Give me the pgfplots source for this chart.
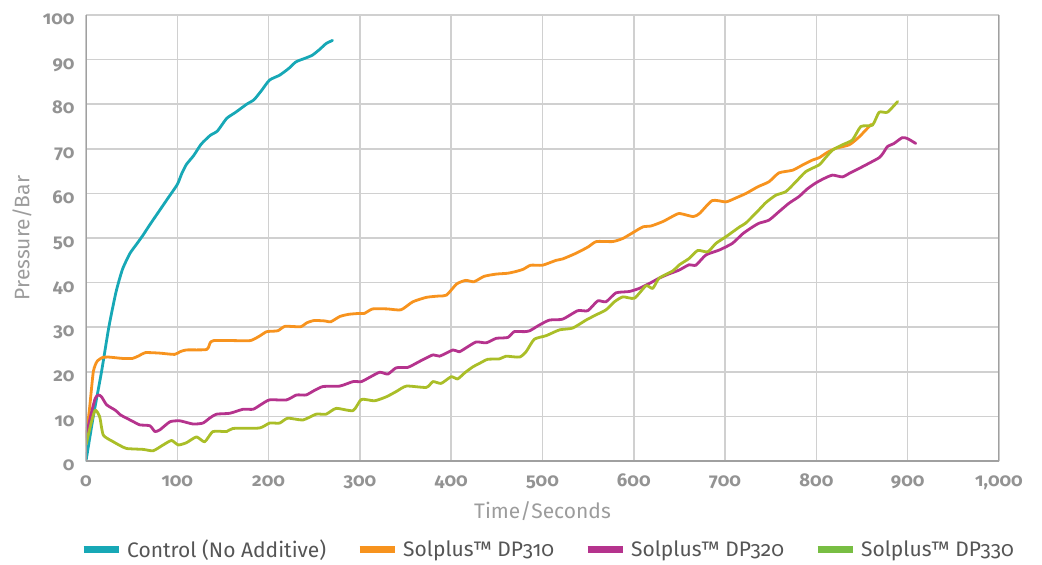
\documentclass[border=0pt]{standalone}
\usepackage{fontspec}
\setmainfont{Fira Sans}[Numbers=OldStyle]
\usepackage{pgfplots}
\pgfplotsset{compat=1.18}
\definecolor{cteal}{HTML}{17A8B6}
\definecolor{corange}{HTML}{F7931E}
\definecolor{cmagenta}{HTML}{B5338D}
\definecolor{cgreen}{HTML}{AABE28}
\definecolor{clegendgreen}{HTML}{78BE43}
\definecolor{gridgray}{HTML}{D0D0D0}
\definecolor{axisgray}{HTML}{A0A0A0}
\definecolor{tickgray}{HTML}{939393}
\definecolor{labelgray}{HTML}{9C9C9C}
\definecolor{legtext}{HTML}{555555}
\begin{document}
\begin{tikzpicture}
\path[use as bounding box] (-86pt,-104pt) rectangle (956pt,461pt);
\begin{axis}[
  at={(0pt,0pt)}, anchor=south west,
  scale only axis, width=913pt, height=446pt,
  xmin=0, xmax=1000, ymin=0, ymax=100,
  xtick={0,100,...,1000}, ytick={0,10,...,100},
  grid=major,
  major grid style={draw=gridgray, line width=1.5pt},
  axis line style={draw=none},
  major tick length=0pt,
  /pgf/number format/assume math mode=true,
  /pgf/number format/1000 sep={,},
  tick label style={font=\fontsize{18.5}{18.5}\selectfont\bfseries, text=tickgray},
  xticklabel style={anchor=base, yshift=-25pt},
  yticklabel style={anchor=base east, yshift=-9.7pt, xshift=-8pt},
  xlabel={Time/Seconds},
  ylabel={Pressure/Bar},
  label style={font=\fontsize{21}{21}\selectfont, text=labelgray},
  xlabel style={at={(axis description cs:0.5,0)}, anchor=base, yshift=-57.7pt},
  ylabel style={at={(axis description cs:-0.0701,0.5)}, anchor=center},
  legend columns=4,
  legend style={draw=none, fill=none, at={(axis description cs:0,0)}, anchor=west,
    xshift=-9pt, yshift=-88pt,
    font=\fontsize{21}{21}\selectfont, text=legtext,
    nodes={inner sep=0pt},
    /tikz/every odd column/.append style={column sep=5pt},
    /tikz/every even column/.append style={column sep=30pt}},
  legend image code/.code={\draw[#1, line width=7pt, line cap=butt, sharp plot] (0pt,0pt) -- (35pt,0pt);},
  every axis plot/.append style={line width=2.8pt, line join=round, line cap=round, smooth, tension=0.35},
]
\addplot[cteal] coordinates {
(0,0) (8,10) (17,20) (25,30) (33,38) (40,43) (48,46.5) (55,48.5) (62,50.5) (70,53)
(80,56) (90,59) (100,62) (105,64.5) (110,66.5) (118,68.5) (126,71) (136,73) (144,74)
(154,76.8) (164,78.2) (176,80) (184,81) (192,83) (201,85.4) (212,86.5) (222,88)
(230,89.5) (240,90.3) (248,91) (256,92.3) (263,93.6) (270,94.3)};
\addlegendentry{Control (No Additive)}
\addplot[corange] coordinates {
(0,5) (4,12) (8,20) (12,22.3) (18,23.2) (25,23.3) (40,23) (51,23) (58,23.6) (65,24.3)
(80,24.2) (97,23.9) (103,24.5) (110,24.9) (132,25) (136,26.5) (140,27) (160,27)
(180,27) (190,28) (198,29) (210,29.2) (218,30.2) (235,30.1) (242,31) (250,31.5)
(262,31.4) (268,31.2) (278,32.4) (288,32.9) (300,33.1) (305,33.1) (314,34.1) (330,34.1)
(345,33.9) (358,35.7) (373,36.7) (387,37) (395,37.2) (406,39.7) (416,40.5) (425,40.2)
(436,41.4) (449,41.9) (462,42.1) (471,42.5) (479,43) (487,43.9) (500,43.9) (515,45)
(522,45.3) (537,46.6) (550,48) (559,49.2) (577,49.2) (588,49.9) (599,51.2) (610,52.5)
(619,52.7) (632,53.7) (642,54.8) (650,55.5) (665,54.8) (672,55.5) (686,58.4) (701,58.1)
(712,59) (723,60) (736,61.5) (748,62.6) (759,64.6) (774,65.2) (786,66.5) (796,67.5)
(803,68) (812,69.2) (821,70.1) (836,70.9) (847,72.7) (860,75.5)};
\addlegendentry{Solplus™ DP310}
\addplot[cmagenta] coordinates {
(0,5.4) (5,10) (10,14) (13.5,14.8) (17,14.4) (22.6,12.6) (32,11.4) (38,10.3) (44.5,9.6)
(52,8.8) (59,8.1) (70,7.9) (75.5,6.6) (81,7) (92,8.8) (103,9) (117,8.3) (128,8.5)
(136,9.7) (143,10.5) (157.5,10.7) (172,11.6) (183,11.6) (192,12.7) (201,13.7)
(219.6,13.7) (230.5,14.8) (241,14.8) (250,15.8) (259.7,16.7) (278,16.8) (292.5,17.8)
(301.6,17.8) (311,18.8) (321.7,19.9) (330.7,19.5) (339.8,20.9) (352.6,21) (366,22.4)
(380,23.8) (387.3,23.5) (401.9,24.9) (409,24.5) (418,25.6) (427.5,26.7) (438.4,26.5)
(449.3,27.5) (462,27.7) (469,29) (480,29) (486,29.2) (496.7,30.5) (507.7,31.6)
(522,31.8) (538.6,33.7) (549.6,33.7) (560.5,35.9) (569.6,35.7) (580.5,37.7) (595,38)
(605.9,38.7) (617,39.8) (627.8,41) (638,41.9) (649.6,42.8) (660.5,44) (668,43.9)
(679,46.2) (693.6,47.3) (708,48.8) (719,50.9) (728,52.2) (737,53.3) (748,54) (759,55.9)
(770,57.8) (781,59.3) (790,61) (799,62.3) (808,63.3) (817.6,64.1) (828.5,63.7)
(837,64.6) (846.8,65.6) (858,66.8) (868.7,68) (873,69) (877.8,70.5) (885,71.2)
(894,72.5) (899.7,72.3) (908.8,71.2)};
\addlegendentry{Solplus™ DP320}
\addplot[cgreen, forget plot] coordinates {
(0,3.6) (5,8) (10,11.4) (15,9.9) (19,5.8) (30,4.3) (37,3.5) (44.5,2.8) (62.7,2.6)
(73.6,2.3) (84.5,3.6) (93.7,4.6) (101,3.6) (110,4.1) (121,5.4) (130,4.3) (139,6.6)
(154,6.6) (161,7.3) (190,7.4) (201,8.5) (212,8.5) (221,9.6) (237.6,9.2) (252,10.5)
(263,10.5) (274,11.8) (292.5,11.3) (301.6,13.8) (316,13.5) (329,14.4) (340,15.6)
(351,16.8) (372.7,16.5) (380,17.8) (389,17.4) (400,18.9) (407,18.4) (415,19.8)
(423.7,21.1) (432,22) (440,22.8) (453,22.9) (460,23.5) (474.8,23.3) (482,24.5)
(491,27.3) (504,28.1) (518.6,29.4) (533,29.8) (547.7,31.6) (558,32.7) (569.6,33.9)
(578.8,35.7) (588,36.8) (600.7,36.5) (613.4,39.3) (620.7,38.7) (627.8,41) (642.5,42.6)
(650,44) (660.5,45.4) (670,47.2) (681,46.9) (690,48.8) (701,50.3) (716,52.5) (723,53.4)
(737,56.3) (745,58) (755.6,59.6) (766.5,60.4) (777.5,62.6) (788.5,64.9) (803,66.4)
(810,68) (817.6,69.7) (828.5,70.9) (839.5,72) (848.7,75) (861.4,75.3) (868.7,78.2)
(877.8,78.2) (889,80.6)};
\addlegendimage{clegendgreen}
\addlegendentry{Solplus™ DP330}
\draw[axisgray, line width=3pt] (rel axis cs:0,1) -- (rel axis cs:0,0) -- (rel axis cs:1,0) -- (rel axis cs:1,1);
\end{axis}
\end{tikzpicture}
\end{document}
